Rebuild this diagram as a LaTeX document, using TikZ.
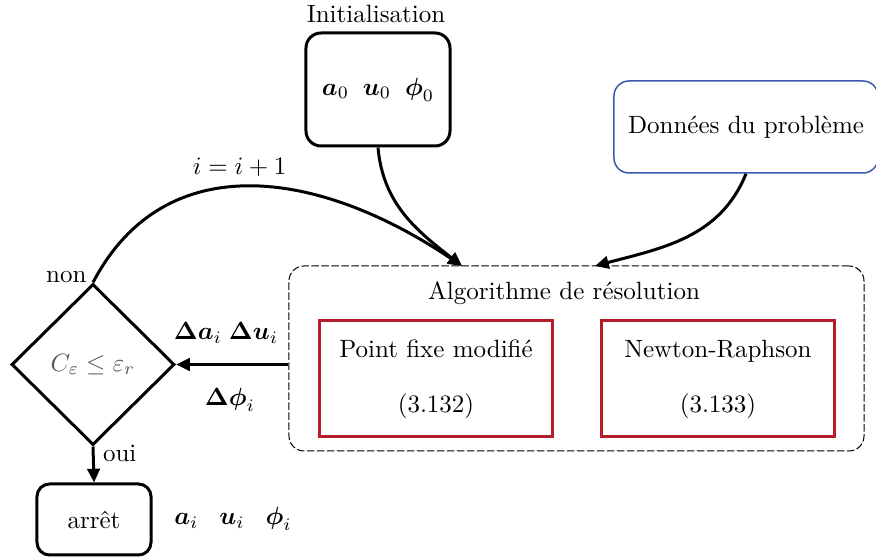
\documentclass[tikz,border=0pt]{standalone}
\usepackage{amsmath,amssymb}
\usepackage{xcolor}
\usepackage{tikz}
\usetikzlibrary{shapes.geometric, arrows.meta, positioning}

\definecolor{databorder}{RGB}{60,90,170}
\definecolor{methodred}{RGB}{180,30,40}

\begin{document}
\begin{tikzpicture}[
    x=0.4pt, y=0.4pt,
    box/.style={rectangle, draw, very thick, rounded corners=6pt, align=center},
    databox/.style={rectangle, draw=databorder, semithick, rounded corners=6pt,
                minimum width=105.6pt, minimum height=36.8pt, align=center},
    algobox/.style={rectangle, draw, thin, dash pattern=on 3pt off 1pt,
                rounded corners=6pt, minimum width=230pt, minimum height=74pt},
    method/.style={rectangle, draw=methodred, very thick, minimum width=92.8pt,
                minimum height=46.4pt, align=center},
    test/.style={diamond, draw, very thick, minimum width=65.2pt,
                minimum height=64.4pt, inner sep=0pt, text=black!65},
    arrow/.style={-{Triangle[length=5.5pt,width=5pt]}, very thick},
]
\useasboundingbox (0,0) rectangle (876,-559);

\node (inittitle) at (376,-14) {Initialisation};
\node[box, minimum width=57.6pt, minimum height=45.2pt] (init) at (378,-89.5)
    {$\boldsymbol{a}_0\;\;\boldsymbol{u}_0\;\;\boldsymbol{\phi}_0$};
\node[databox] (data) at (746,-127) {Données du problème};

\node[algobox] (algo) at (576.5,-358.5) {};
\node (algotitle) at (564,-293) {Algorithme de résolution};
\node[method] (pf) at (436,-379) {Point fixe modifié\\[10pt](3.132)};
\node[method] (nr) at (718,-379) {Newton-Raphson\\[10pt](3.133)};

\node[test] (test) at (93,-364.5) {$C_\varepsilon \leq \varepsilon_r$};
\node[box, rounded corners=5pt, minimum width=45.6pt, minimum height=28.4pt]
    (stop) at (94,-519.5) {arrêt};
\node (final) at (233,-519) {$\boldsymbol{a}_i\;\;\;\boldsymbol{u}_i\;\;\;\boldsymbol{\phi}_i$};

\node (deltaau) at (226,-333) {$\boldsymbol{\Delta a}_i\;\boldsymbol{\Delta u}_i$};
\node (deltaphi) at (230,-400) {$\boldsymbol{\Delta\phi}_i$};

\coordinate (inloop) at (462,-266);
\coordinate (indata) at (595,-266);

\draw[arrow] (test.north) .. controls (165,-145) and (320,-170) .. (inloop)
    node[pos=0,left,inner sep=2pt,yshift=2pt]{non}
    node[above,pos=0.47]{$i=i+1$};
\draw[arrow] (init.south) to[out=-85,in=142] (inloop);
\draw[arrow] (data.south) to[out=-112,in=15] (indata);
\draw[arrow] (algo.west |- test.east) -- (test.east);
\draw[arrow] (test.south) -- node[right,pos=0.2]{oui} (stop.north);
\end{tikzpicture}
\end{document}
